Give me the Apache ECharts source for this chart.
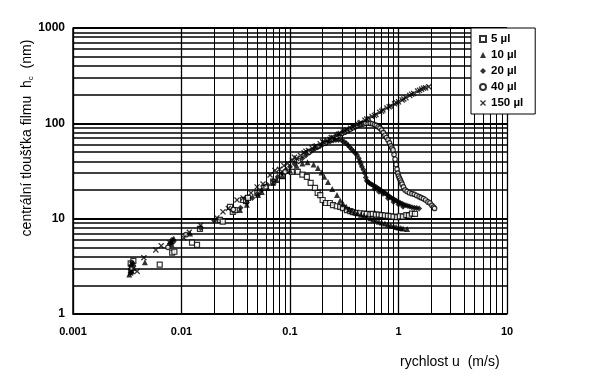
<!DOCTYPE html>
<html>
<head>
<meta charset="utf-8">
<script src="https://cdn.jsdelivr.net/npm/echarts@6/dist/echarts.min.js"></script>
<style>html,body{margin:0;padding:0;background:#fff}#c{width:591px;height:389px}</style>
</head>
<body>
<div id="c"></div>
<script>
// ---- data (u in m/s, h_c in nm) ----
const seriesNames = ['5 µl', '10 µl', '20 µl', '40 µl', '150 µl'];
const xTickLabels = ['0.001', '0.01', '0.1', '1', '10'];
const yTickLabels = ['1', '10', '100', '1000'];

const s5 = [
  [0.0034, 3.4], [0.0036, 3.6], [0.0063, 3.3], [0.0082, 4.4], [0.0086, 4.5], [0.0125, 5.6],
  [0.0139, 5.3], [0.0148, 7.8], [0.0226, 9.7], [0.024, 9.3], [0.028, 13.3], [0.0297, 11.8],
  [0.031, 12.3], [0.037, 15.7], [0.0393, 15.3], [0.041, 16.5], [0.05, 18.5], [0.058, 21],
  [0.07, 24.5], [0.085, 28], [0.104, 30.9], [0.118, 31], [0.13, 29], [0.143, 27.4],
  [0.155, 23.7], [0.17, 21], [0.18, 18.6], [0.19, 17.7], [0.2, 15.7], [0.215, 14.6],
  [0.233, 14.6], [0.249, 13.9], [0.27, 13.5], [0.29, 13.3], [0.308, 12.9], [0.335, 12.3],
  [0.36, 12.0], [0.38, 11.7], [0.41, 11.5], [0.44, 11.4], [0.48, 11.3], [0.51, 11.2],
  [0.55, 11.1], [0.58, 11.2], [0.62, 11.0], [0.66, 11.0], [0.7, 10.9], [0.75, 10.8],
  [0.8, 10.7], [0.85, 10.6], [0.9, 10.5], [0.97, 10.4], [1.03, 10.6], [1.1, 10.5],
  [1.18, 10.9], [1.25, 10.8], [1.33, 11.3], [1.42, 11.2]
];
const s10 = [
  [0.0033, 2.6], [0.0034, 3.1], [0.0035, 2.8], [0.0036, 3.4], [0.0034, 2.9], [0.0035, 3.3],
  [0.0046, 3.5], [0.008, 5.8], [0.0085, 6.2], [0.0081, 5.4], [0.012, 7.0], [0.0346, 12.3],
  [0.04, 14], [0.0507, 17.7], [0.055, 19], [0.062, 21], [0.0697, 23.7], [0.0755, 25.4],
  [0.085, 28], [0.1, 32], [0.115, 36], [0.13, 38], [0.145, 39], [0.165, 37], [0.181, 34],
  [0.195, 30.5], [0.207, 27.5], [0.224, 24.3], [0.245, 20.5], [0.271, 17.7], [0.29, 15.5],
  [0.31, 14.2], [0.33, 13.3], [0.35, 12.6], [0.37, 12.1], [0.395, 11.7], [0.42, 11.4],
  [0.45, 11.0], [0.48, 10.7], [0.51, 10.4], [0.55, 10.1], [0.585, 9.8], [0.62, 9.6],
  [0.66, 9.3], [0.7, 9.1], [0.75, 8.9], [0.8, 8.7], [0.85, 8.5], [0.9, 8.4], [0.95, 8.2],
  [1.0, 8.1], [1.05, 8.0], [1.1, 7.9], [1.2, 7.8]
];
const s20 = [
  [0.0034, 3.2], [0.0035, 2.9], [0.0034, 2.7], [0.0035, 3.5], [0.0034, 3.0], [0.0078, 5.5],
  [0.0082, 6.0], [0.0084, 5.7], [0.015, 8.0], [0.02, 9.5], [0.035, 13], [0.04, 14.8],
  [0.045, 16.5], [0.05, 18.2], [0.055, 20], [0.062, 22.5], [0.07, 25], [0.077, 27.5],
  [0.085, 30], [0.092, 32.5], [0.1, 35], [0.11, 37.5], [0.12, 40], [0.13, 43], [0.14, 46],
  [0.15, 49], [0.16, 52], [0.17, 54], [0.18, 56], [0.19, 58], [0.2, 60], [0.21, 61.5],
  [0.22, 63], [0.235, 64.5], [0.25, 66], [0.265, 67], [0.28, 67], [0.3, 66], [0.315, 64],
  [0.33, 62], [0.343, 59], [0.356, 56], [0.37, 53.5], [0.385, 51], [0.4, 48.5], [0.415, 46.6],
  [0.43, 43], [0.44, 40], [0.45, 37.5], [0.46, 35], [0.475, 32.5], [0.49, 30], [0.5, 27],
  [0.51, 25], [0.525, 24.2], [0.54, 23.5], [0.56, 23], [0.58, 22.6], [0.6, 22], [0.62, 21.5],
  [0.64, 21], [0.66, 20.5], [0.68, 20], [0.7, 19.5], [0.73, 19], [0.75, 18.5], [0.78, 18],
  [0.8, 17.5], [0.83, 17], [0.86, 16.5], [0.89, 16.2], [0.92, 15.8], [0.96, 15.4], [1.0, 15],
  [1.04, 14.6], [1.08, 14.3], [1.12, 14.0], [1.17, 13.8], [1.22, 13.6], [1.27, 13.4],
  [1.33, 13.2], [1.4, 13], [1.47, 12.9], [1.55, 12.8],
  [0.6, 20.5], [0.66, 19.2], [0.72, 18.3], [0.8, 16.4], [0.9, 15.0], [1.0, 14.1], [1.1, 13.3]
];
const s40 = [
  [0.0035, 3.0], [0.0075, 5.0], [0.011, 6.8], [0.03, 12.5], [0.06, 21.5], [0.09, 31],
  [0.12, 40.5], [0.15, 50], [0.18, 57], [0.21, 62], [0.24, 68], [0.27, 73], [0.3, 78],
  [0.32, 81], [0.34, 84], [0.36, 87], [0.38, 90], [0.4, 92.5], [0.42, 95], [0.44, 96.5],
  [0.46, 98], [0.48, 99], [0.5, 100], [0.525, 100.5], [0.55, 100], [0.575, 99], [0.6, 97],
  [0.625, 95], [0.65, 92], [0.675, 89], [0.7, 85], [0.725, 80], [0.75, 75], [0.775, 71],
  [0.8, 67], [0.825, 62.5], [0.85, 58], [0.87, 55], [0.89, 52.6], [0.91, 47], [0.93, 42],
  [0.95, 37], [0.97, 33], [0.985, 30], [1.0, 28], [1.02, 26.6], [1.04, 25.4], [1.06, 24.2],
  [1.08, 23], [1.11, 21.5], [1.15, 20], [1.2, 19.3], [1.26, 18.7], [1.33, 18.3],
  [1.4, 18], [1.47, 17.5], [1.55, 17], [1.62, 16.6], [1.7, 16.2], [1.78, 15.7],
  [1.87, 15.0], [1.95, 14.6], [2.03, 13.8], [2.1, 13.2], [2.15, 12.8]
];
const s150 = [
  [0.0034, 2.7], [0.0036, 3.0], [0.0039, 2.8], [0.0045, 3.9], [0.0058, 4.7], [0.0065, 5.2],
  [0.0078, 5.6], [0.0105, 6.3], [0.0118, 7.2], [0.015, 8.5], [0.0212, 10.2], [0.0241, 11.8],
  [0.027, 12.8], [0.0325, 15.7], [0.037, 16.5], [0.0437, 18.6], [0.0497, 21.5], [0.0564, 23.1],
  [0.0655, 28.7], [0.0727, 32], [0.08, 33], [0.088, 36], [0.095, 38], [0.105, 41], [0.115, 43],
  [0.125, 46], [0.135, 49], [0.148, 52], [0.16, 55], [0.175, 58], [0.19, 61], [0.205, 63],
  [0.22, 66], [0.234, 68], [0.25, 71], [0.27, 74], [0.29, 78], [0.31, 81], [0.335, 85],
  [0.36, 89], [0.39, 93], [0.42, 98], [0.45, 102], [0.49, 108], [0.53, 113], [0.57, 118],
  [0.62, 124], [0.67, 131], [0.72, 138], [0.78, 145], [0.85, 152], [0.92, 160], [1.0, 168],
  [1.08, 176], [1.17, 186], [1.27, 196], [1.38, 206], [1.5, 218], [1.63, 228], [1.78, 236],
  [1.9, 242],
  [0.11, 44], [0.14, 51], [0.17, 57], [0.2, 64], [0.24, 71], [0.28, 77], [0.32, 84],
  [0.38, 92], [0.44, 100], [0.51, 111], [0.6, 121], [0.7, 134], [0.82, 149], [0.96, 163],
  [1.12, 180], [1.32, 202], [1.56, 222], [1.7, 234]
];

// ---- chart ----
const X_MIN = 0.001, X_MAX = 10, Y_MIN = 1, Y_MAX = 1000;
const minorX = [], minorY = [];
for (let e = Math.log10(X_MIN); e < Math.log10(X_MAX); e++) {
  for (let m = 2; m <= 9; m++) minorX.push({ xAxis: m * Math.pow(10, e), lineStyle: { width: 1 } });
}
for (let e = Math.log10(Y_MIN); e < Math.log10(Y_MAX); e++) {
  for (let m = 2; m <= 9; m++) minorY.push({ yAxis: m * Math.pow(10, e), lineStyle: { width: 1.5 } });
}

const crossPath = 'path://M0,1.5L1.5,0L5,3.5L8.5,0L10,1.5L6.5,5L10,8.5L8.5,10L5,6.5L1.5,10L0,8.5L3.5,5Z';
const styles = [
  { symbol: 'rect', size: 5, item: { color: '#fff', borderColor: '#000', borderWidth: 1.2 } },
  { symbol: 'triangle', size: 6, item: { color: '#000' } },
  { symbol: 'diamond', size: 6, item: { color: '#000' } },
  { symbol: 'circle', size: 4.5, item: { color: '#fff', borderColor: '#000', borderWidth: 1.2 } },
  { symbol: crossPath, size: 6, item: { color: '#000' } }
];
const datasets = [s5, s10, s20, s40, s150];

const series = datasets.map((d, i) => ({
  name: seriesNames[i],
  type: 'scatter',
  data: d,
  symbol: styles[i].symbol,
  symbolSize: styles[i].size,
  itemStyle: styles[i].item,
  z: 3,
  animation: false
}));
series[0].markLine = {
  silent: true,
  z: 1,
  symbol: ['none', 'none'],
  label: { show: false },
  lineStyle: { color: '#000', type: 'solid' },
  emphasis: { disabled: true },
  animation: false,
  data: minorX.concat(minorY)
};

const tickFmt = (labels, min) => v => labels[Math.round(Math.log10(v) - Math.log10(min))] || '';

const chart = echarts.init(document.getElementById('c'), null, { renderer: 'canvas' });
chart.setOption({
  backgroundColor: '#fff',
  animation: false,
  textStyle: { fontFamily: 'Liberation Sans, Arial, sans-serif' },
  grid: { left: 73, right: 84, top: 28, bottom: 75, containLabel: false },
  xAxis: {
    type: 'log', logBase: 10, min: X_MIN, max: X_MAX,
    axisLine: { show: true, lineStyle: { color: '#000', width: 1.5 } },
    axisTick: { show: false },
    axisLabel: { formatter: tickFmt(xTickLabels, X_MIN), color: '#000', fontWeight: 'bold', fontSize: 11, margin: 12 },
    splitLine: { show: true, lineStyle: { color: '#000', width: 1.3 } }
  },
  yAxis: {
    type: 'log', logBase: 10, min: Y_MIN, max: Y_MAX,
    axisLine: { show: true, lineStyle: { color: '#000', width: 1.5 } },
    axisTick: { show: false },
    axisLabel: { formatter: tickFmt(yTickLabels, Y_MIN), color: '#000', fontWeight: 'bold', fontSize: 12, margin: 8 },
    splitLine: { show: true, lineStyle: { color: '#000', width: 2 } }
  },
  legend: {
    data: seriesNames,
    orient: 'vertical',
    left: 471, top: 28,
    itemWidth: 6, itemHeight: 6, itemGap: 4,
    padding: [5, 12, 5, 8],
    backgroundColor: '#fff',
    borderColor: '#000', borderWidth: 1, borderRadius: 0,
    textStyle: { color: '#000', fontWeight: 'bold', fontSize: 11.5, fontFamily: 'Liberation Sans, Arial, sans-serif' }
  },
  graphic: [
    {
      type: 'text', x: 27, y: 138, rotation: Math.PI / 2,
      style: {
        text: '{a|centrální tloušťka filmu  h}{s|c}{a|  (nm)}',
        align: 'center', verticalAlign: 'middle', fill: '#000',
        rich: {
          a: { fontSize: 14, fontFamily: 'Liberation Sans, Arial, sans-serif', fill: '#000' },
          s: { fontSize: 8, fontFamily: 'Liberation Sans, Arial, sans-serif', fill: '#000', padding: [7, 0, 0, 0] }
        }
      }
    },
    {
      type: 'text', x: 400, y: 362,
      style: {
        text: 'rychlost u  (m/s)', align: 'left', verticalAlign: 'middle',
        fontSize: 14, fontFamily: 'Liberation Sans, Arial, sans-serif', fill: '#000'
      }
    }
  ],
  series: series
});
</script>
</body>
</html>
